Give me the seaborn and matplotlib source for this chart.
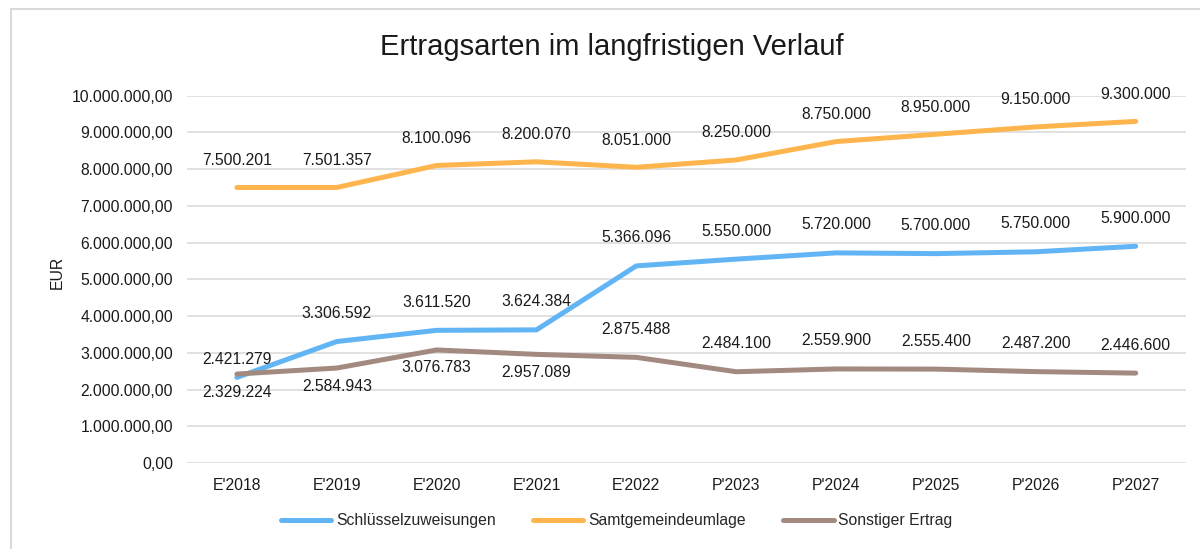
import pandas as pd
import matplotlib.pyplot as plt
import matplotlib.patches as mpatches
from matplotlib.ticker import FuncFormatter
import seaborn as sns

sns.set_style('white')
plt.rcParams['font.family'] = ['Liberation Sans', 'DejaVu Sans']

# ------------------------------------------------------------
# Daten
# ------------------------------------------------------------
jahre = ["E'2018", "E'2019", "E'2020", "E'2021", "E'2022",
         "P'2023", "P'2024", "P'2025", "P'2026", "P'2027"]
schluessel = [2329224, 3306592, 3611520, 3624384, 5366096,
              5550000, 5720000, 5700000, 5750000, 5900000]
umlage = [7500201, 7501357, 8100096, 8200070, 8051000,
          8250000, 8750000, 8950000, 9150000, 9300000]
sonstige = [2421279, 2584943, 3076783, 2957089, 2875488,
            2484100, 2559900, 2555400, 2487200, 2446600]

reihen = ['Schlüsselzuweisungen', 'Samtgemeindeumlage', 'Sonstiger Ertrag']
farben = ['#62B5F5', '#FFB54D', '#A38A80']

df = pd.DataFrame({'Jahr': jahre * 3,
                   'Wert': schluessel + umlage + sonstige,
                   'Reihe': [r for r in reihen for _ in jahre]})

# Lage der Datenbeschriftungen (Pixel, negativ = oberhalb)
versatz = {
    'Schlüsselzuweisungen': [15] + [-28] * 9,
    'Samtgemeindeumlage': [-27] * 10,
    'Sonstiger Ertrag': [-15, 18, 18, 18] + [-28] * 6,
}

# ------------------------------------------------------------
# Grafik
# ------------------------------------------------------------
fig = plt.figure(figsize=(12, 5.49), dpi=100)
ax = fig.add_axes([0.1558, 0.1567, 0.8322, 0.669])

sns.lineplot(data=df, x='Jahr', y='Wert', hue='Reihe', palette=farben,
             linewidth=3.6, ax=ax, sort=False)
for line in ax.get_lines():
    line.set_solid_capstyle('round')
    line.set_solid_joinstyle('round')

for reihe in reihen:
    sub = df[df['Reihe'] == reihe].reset_index(drop=True)
    for i, row in sub.iterrows():
        txt = f"{row['Wert']:,.0f}".replace(',', '.')
        ax.annotate(txt, (i, row['Wert']), xytext=(0, -versatz[reihe][i]),
                    textcoords='offset pixels', ha='center', va='center',
                    fontsize=11.3, color='#1a1a1a')

ax.set_ylim(0, 10000000)
ax.set_xlim(-0.5, len(jahre) - 0.5)
ax.set_yticks(range(0, 10000001, 1000000))
ax.yaxis.set_major_formatter(FuncFormatter(
    lambda v, p: f"{v:,.2f}".replace(',', 'X').replace('.', ',').replace('X', '.')))
ax.grid(axis='y', color='#d9d9d9', linewidth=1.1)
ax.set_axisbelow(True)
for s in ax.spines.values():
    s.set_visible(False)
ax.tick_params(axis='both', length=0, labelsize=11.3, colors='#1a1a1a')
ax.tick_params(axis='x', pad=11)
ax.tick_params(axis='y', pad=10)
ax.set_xlabel('')
ax.set_ylabel('EUR', fontsize=11.3, color='#1a1a1a')
ax.yaxis.set_label_coords(-0.122, 0.52)

fig.text(0.51, 1 - 47 / 549, 'Ertragsarten im langfristigen Verlauf',
         ha='center', va='center', fontsize=21, color='#1a1a1a')

handles, labels = ax.get_legend_handles_labels()
ax.get_legend().remove()
fig.legend(handles, labels, loc='center', bbox_to_anchor=(0.514, 1 - 521 / 549),
           ncol=3, frameon=False, fontsize=11.3, handlelength=3.2,
           handletextpad=0.3, columnspacing=2.4)

# Rahmen des Diagrammbereichs
rahmen = mpatches.Rectangle((11 / 1200, -0.1), 1.2, 1.1 - 9 / 549,
                            transform=fig.transFigure, fill=False,
                            edgecolor='#d9d9d9', linewidth=1.5, clip_on=False)
fig.patches.append(rahmen)

fig.savefig('out.png', dpi=100)
plt.close()
